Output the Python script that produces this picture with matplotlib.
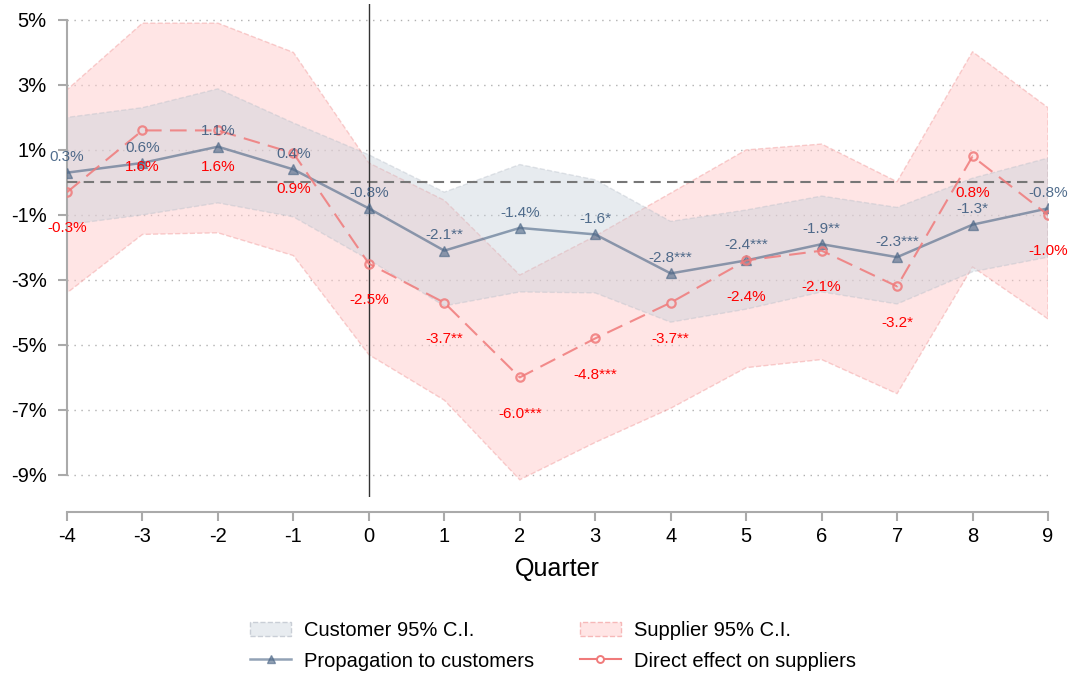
import matplotlib
matplotlib.use("Agg")
import matplotlib.pyplot as plt
from matplotlib.patches import Patch
from matplotlib.lines import Line2D

plt.rcParams['font.family'] = ['Liberation Sans', 'DejaVu Sans']

quarters = [-4, -3, -2, -1, 0, 1, 2, 3, 4, 5, 6, 7, 8, 9]

# propagation to customers (point estimate, significance stars, 95% C.I.)
cust = [0.3, 0.6, 1.1, 0.4, -0.8, -2.1, -1.4, -1.6, -2.8, -2.4, -1.9, -2.3, -1.3, -0.8]
cust_stars = ["", "", "", "", "", "**", "", "*", "***", "***", "**", "***", "*", ""]
cust_hi = [2.0, 2.3, 2.88, 1.83, 0.85, -0.3, 0.55, 0.08, -1.2, -0.85, -0.42, -0.77, 0.13, 0.75]
cust_lo = [-1.3, -1.0, -0.63, -1.06, -2.38, -3.8, -3.37, -3.4, -4.3, -3.9, -3.37, -3.74, -2.75, -2.3]

# direct effect on suppliers
supp = [-0.3, 1.6, 1.6, 0.9, -2.5, -3.7, -6.0, -4.8, -3.7, -2.4, -2.1, -3.2, 0.8, -1.0]
supp_stars = ["", "", "", "", "", "**", "***", "***", "**", "", "", "*", "", ""]
supp_hi = [2.85, 4.9, 4.9, 4.0, 0.6, -0.55, -2.85, -1.65, -0.33, 1.0, 1.18, 0.02, 4.02, 2.3]
supp_lo = [-3.4, -1.6, -1.55, -2.25, -5.3, -6.7, -9.15, -8.0, -6.95, -5.7, -5.45, -6.5, -2.6, -4.2]

yticks = [5, 3, 1, -1, -3, -5, -7, -9]

CUST_LINE = '#4a6585'
CUST_TEXT = '#34557a'
SUPP_LINE = '#f07a7a'
SUPP_TEXT = '#ff0000'


def fmt(v, s):
    return f"{v:.1f}" + (s if s else "%")


fig = plt.figure(figsize=(10.76, 6.77), dpi=100)
ax = fig.add_axes([67 / 1076, 1 - 497 / 677, (1048 - 67) / 1076, (497 - 4) / 677])

# confidence bands
ax.fill_between(quarters, supp_lo, supp_hi, facecolor='#ffcccc', alpha=0.5,
                edgecolor='#f2a0a0', linestyle='--', linewidth=1, zorder=1)
ax.fill_between(quarters, cust_lo, cust_hi, facecolor='#c5cfd9', alpha=0.4,
                edgecolor='#b8bfc9', linestyle='--', linewidth=1, zorder=2)

ax.axhline(0, color='#777777', linestyle=(0, (5, 3)), linewidth=1.5, zorder=3)
ax.axvline(0, color='#333333', linewidth=1, zorder=3)

ax.plot(quarters, cust, color=CUST_LINE, alpha=0.6, linewidth=1.8, marker='^',
        markersize=7, markerfacecolor=CUST_LINE, markeredgecolor=CUST_LINE, zorder=4)
ax.plot(quarters, supp, color=SUPP_LINE, alpha=0.85, linewidth=1.5, linestyle=(0, (8, 4)),
        marker='o', markersize=6, markerfacecolor='none', markeredgewidth=1.6,
        markeredgecolor=SUPP_LINE, zorder=5)

for q, v, s in zip(quarters, cust, cust_stars):
    ax.annotate(fmt(v, s), (q, v), xytext=(0, 11), textcoords='offset points',
                ha='center', va='center', fontsize=11, color=CUST_TEXT, alpha=0.85, zorder=6)
for q, v, s in zip(quarters, supp, supp_stars):
    ax.annotate(fmt(v, s), (q, v), xytext=(0, -26), textcoords='offset points',
                ha='center', va='center', fontsize=11, color=SUPP_TEXT, zorder=6)

ax.set_xlim(-4, 9)
ax.set_ylim(-9.68, 5.49)
ax.set_xticks(quarters)
ax.set_xticklabels([str(q) for q in quarters])
ax.set_yticks(yticks)
ax.set_yticklabels([f"{t}%" for t in yticks])
ax.grid(True, axis='y', linestyle=(0, (1, 4)), color='#b0b0b0', linewidth=1)
ax.set_axisbelow(True)

for side in ['top', 'right']:
    ax.spines[side].set_visible(False)
ax.spines['left'].set_bounds(-9, 5)
ax.spines['bottom'].set_bounds(-4, 9)
ax.spines['bottom'].set_position(('outward', 11))
for side in ['left', 'bottom']:
    ax.spines[side].set_color('#aaaaaa')
    ax.spines[side].set_linewidth(1.5)
ax.tick_params(axis='both', colors='#aaaaaa', width=1.5, length=6.5, labelcolor='black',
               labelsize=14.5)
ax.tick_params(axis='y', pad=8)
ax.tick_params(axis='x', pad=4)
ax.set_xlabel("Quarter", fontsize=18, labelpad=8)

handles = [
    Patch(facecolor='#e8ecf0', edgecolor='#c9ced6', linestyle='--', linewidth=1),
    Line2D([], [], color=CUST_LINE, alpha=0.6, linewidth=1.8, marker='^', markersize=6),
    Patch(facecolor='#ffe5e5', edgecolor='#f6b8b8', linestyle='--', linewidth=1),
    Line2D([], [], color=SUPP_LINE, linewidth=1.5, marker='o', markersize=5,
           markerfacecolor='white', markeredgewidth=1.4),
]
labels = ["Customer 95% C.I.", "Propagation to customers",
          "Supplier 95% C.I.", "Direct effect on suppliers"]
fig.legend(handles, labels, ncol=2, loc='center', bbox_to_anchor=(553 / 1076, 1 - 646 / 677),
           frameon=False, fontsize=14.5, handlelength=2.0, handletextpad=0.65,
           columnspacing=2.3, labelspacing=0.55, numpoints=1)

fig.savefig("out.png", dpi=100)
